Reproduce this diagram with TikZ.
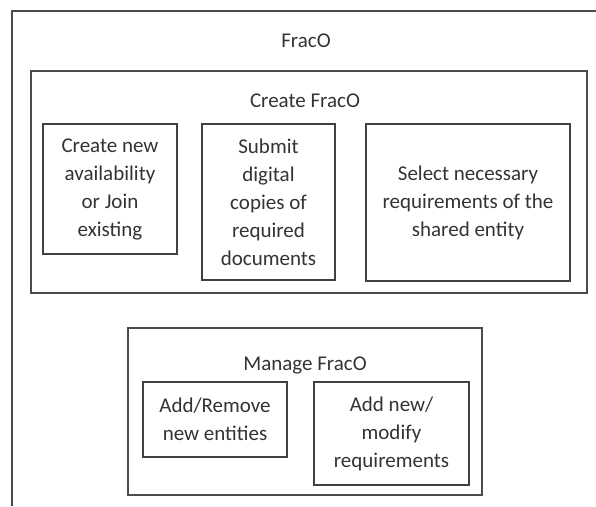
\documentclass[tikz,border=0pt]{standalone}
\usepackage{fontspec}
\setmainfont{Carlito}
\usetikzlibrary{positioning}

\begin{document}
\begin{tikzpicture}[
  x=1pt, y=-1pt,
  font=\fontsize{21}{28}\selectfont,
  text=black!80,
  group/.style={
    draw=black!70,
    line width=1.3pt,
    inner sep=0pt
  },
  task/.style={
    draw=black!75,
    line width=1.2pt,
    align=center,
    inner sep=0pt
  },
  heading/.style={
    align=center,
    inner sep=0pt
  }
]

\useasboundingbox (0,0) rectangle (596,506);

% -------------------------------------------------------------------
% outer frame (open at the bottom and right)
% -------------------------------------------------------------------
\draw[group] (12,506) |- (596,11);
\node[heading] (fraco) at (306,41) {FracO};

% -------------------------------------------------------------------
% Create FracO
% -------------------------------------------------------------------
\node[group, minimum width=556, minimum height=222] (create) at (309,182) {};
\node[heading] (createtitle) at (305,101) {Create FracO};

\node[task, minimum width=134, minimum height=130] (join) at (110,189)
{Create new\\availability\\or Join\\existing};

\node[task, minimum width=133, minimum height=156] (submit) at (268.5,202)
{Submit\\digital\\copies of\\required\\documents};

\node[task, minimum width=204, minimum height=157] (select) at (468,202.5)
{Select necessary\\requirements of the\\shared entity};

% -------------------------------------------------------------------
% Manage FracO
% -------------------------------------------------------------------
\node[group, minimum width=354, minimum height=167] (manage) at (305,411.5) {};
\node[heading] (managetitle) at (305,365) {Manage FracO};

\node[task, minimum width=144, minimum height=75] (entities) at (215,419.5)
{Add/Remove\\new entities};

\node[task, minimum width=155, minimum height=103] (reqs) at (391.5,433.5)
{Add new/\\modify\\requirements};

\end{tikzpicture}
\end{document}
